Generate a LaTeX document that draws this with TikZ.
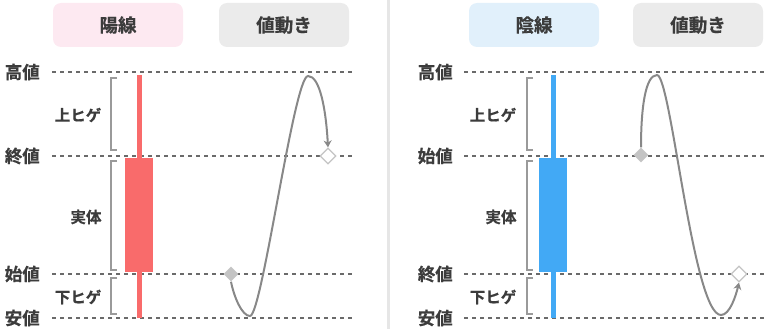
\documentclass[tikz,border=0pt]{standalone}
\usepackage{fontspec}
\setmainfont{Noto Sans CJK JP}[BoldFont={Noto Sans CJK JP Bold}, BoldFeatures={FakeBold=0.6}]
\usetikzlibrary{arrows.meta,shapes.geometric}
\definecolor{ink}{HTML}{3C3C3C}
\definecolor{guide}{HTML}{6A6A6A}
\definecolor{brace}{HTML}{9A9A9A}
\definecolor{bull}{HTML}{F96B6B}
\definecolor{bear}{HTML}{42A9F5}
\definecolor{pinkbg}{HTML}{FDE9F1}
\definecolor{bluebg}{HTML}{E1F0FB}
\definecolor{greybg}{HTML}{EBEBEB}
\definecolor{trail}{HTML}{888888}
\definecolor{dotgrey}{HTML}{C4C4C4}
\definecolor{split}{HTML}{E6E6E6}
\tikzset{
  tag/.style={rectangle, rounded corners=8pt, minimum width=130pt, minimum height=44pt,
              font=\fontsize{18.5}{21}\selectfont\bfseries, text=ink},
  lvl/.style={anchor=east, inner sep=0pt, font=\fontsize{17.5}{20}\selectfont\bfseries, text=ink},
  part/.style={inner sep=0pt, font=\fontsize{15.5}{18}\selectfont\bfseries, text=ink},
  dotline/.style={draw=guide, line width=2pt, dash pattern=on 4pt off 4pt},
  bracket/.style={draw=brace, line width=2.2pt},
  fromdot/.style={diamond, minimum size=15pt, inner sep=0pt, fill=dotgrey},
  todot/.style={diamond, minimum size=16pt, inner sep=0pt, draw=dotgrey, line width=1.2pt, fill=white},
  move/.style={-{Stealth[length=7pt,width=8pt]}, draw=trail, line width=2pt}
}
\begin{document}
\begin{tikzpicture}[x=1pt,y=-1pt]
  \useasboundingbox (0,0) rectangle (768,329);
  \draw[split, line width=3pt] (388,0) -- (388,329);

  % left: 陽線
  \node[tag, fill=pinkbg] (yang) at (118,25) {陽線};
  \node[tag, fill=greybg] (lmove) at (284,25) {値動き};
  \foreach \y/\t/\n in {72/高値/lhi,156/終値/lcl,274/始値/lop,318/安値/llo} {
    \node[lvl] (\n) at (40,\y) {\t};
    \draw[dotline] (\n.east) ++(12,0) -- (355,\y);
  }
  \fill[bull] (137,75) rectangle (142,318);
  \fill[bull] (125,158) rectangle (153,272);
  \foreach \a/\b in {78/150,161/270,278/314}
    \draw[bracket] (117,\a) -- (111,\a) -- (111,\b) -- (117,\b);
  \node[part] (lup) at (78,115) {上ヒゲ};
  \node[part] (lbody) at (86,217) {実体};
  \node[part] (ldown) at (78,297) {下ヒゲ};
  \node[fromdot] (lstart) at (231,274) {};
  \node[todot] (lend) at (328,156) {};
  \draw[move] (lstart.south) .. controls (234,297) and (242,316) .. (250,316)
    .. controls (262,316) and (294,76) .. (308,76)
    .. controls (320,76) and (326,110) .. (lend.north);

  % right: 陰線
  \node[tag, fill=bluebg] (yin) at (534,25) {陰線};
  \node[tag, fill=greybg] (rmove) at (698,25) {値動き};
  \foreach \y/\t/\n in {72/高値/rhi,156/始値/rop,274/終値/rcl,318/安値/rlo} {
    \node[lvl] (\n) at (453,\y) {\t};
    \draw[dotline] (\n.east) ++(11,0) -- (768,\y);
  }
  \fill[bear] (551,75) rectangle (556,318);
  \fill[bear] (539,158) rectangle (567,272);
  \foreach \a/\b in {78/150,161/270,278/314}
    \draw[bracket] (533,\a) -- (527,\a) -- (527,\b) -- (533,\b);
  \node[part] (rup) at (493,115) {上ヒゲ};
  \node[part] (rbody) at (501,217) {実体};
  \node[part] (rdown) at (493,297) {下ヒゲ};
  \node[fromdot] (rstart) at (641,155) {};
  \node[todot] (rend) at (739,274) {};
  \draw[move] (rstart.north) .. controls (641,110) and (645,75) .. (657,75)
    .. controls (671,75) and (693,315) .. (721,315)
    .. controls (730,315) and (736,295) .. (rend.south);
\end{tikzpicture}
\end{document}
